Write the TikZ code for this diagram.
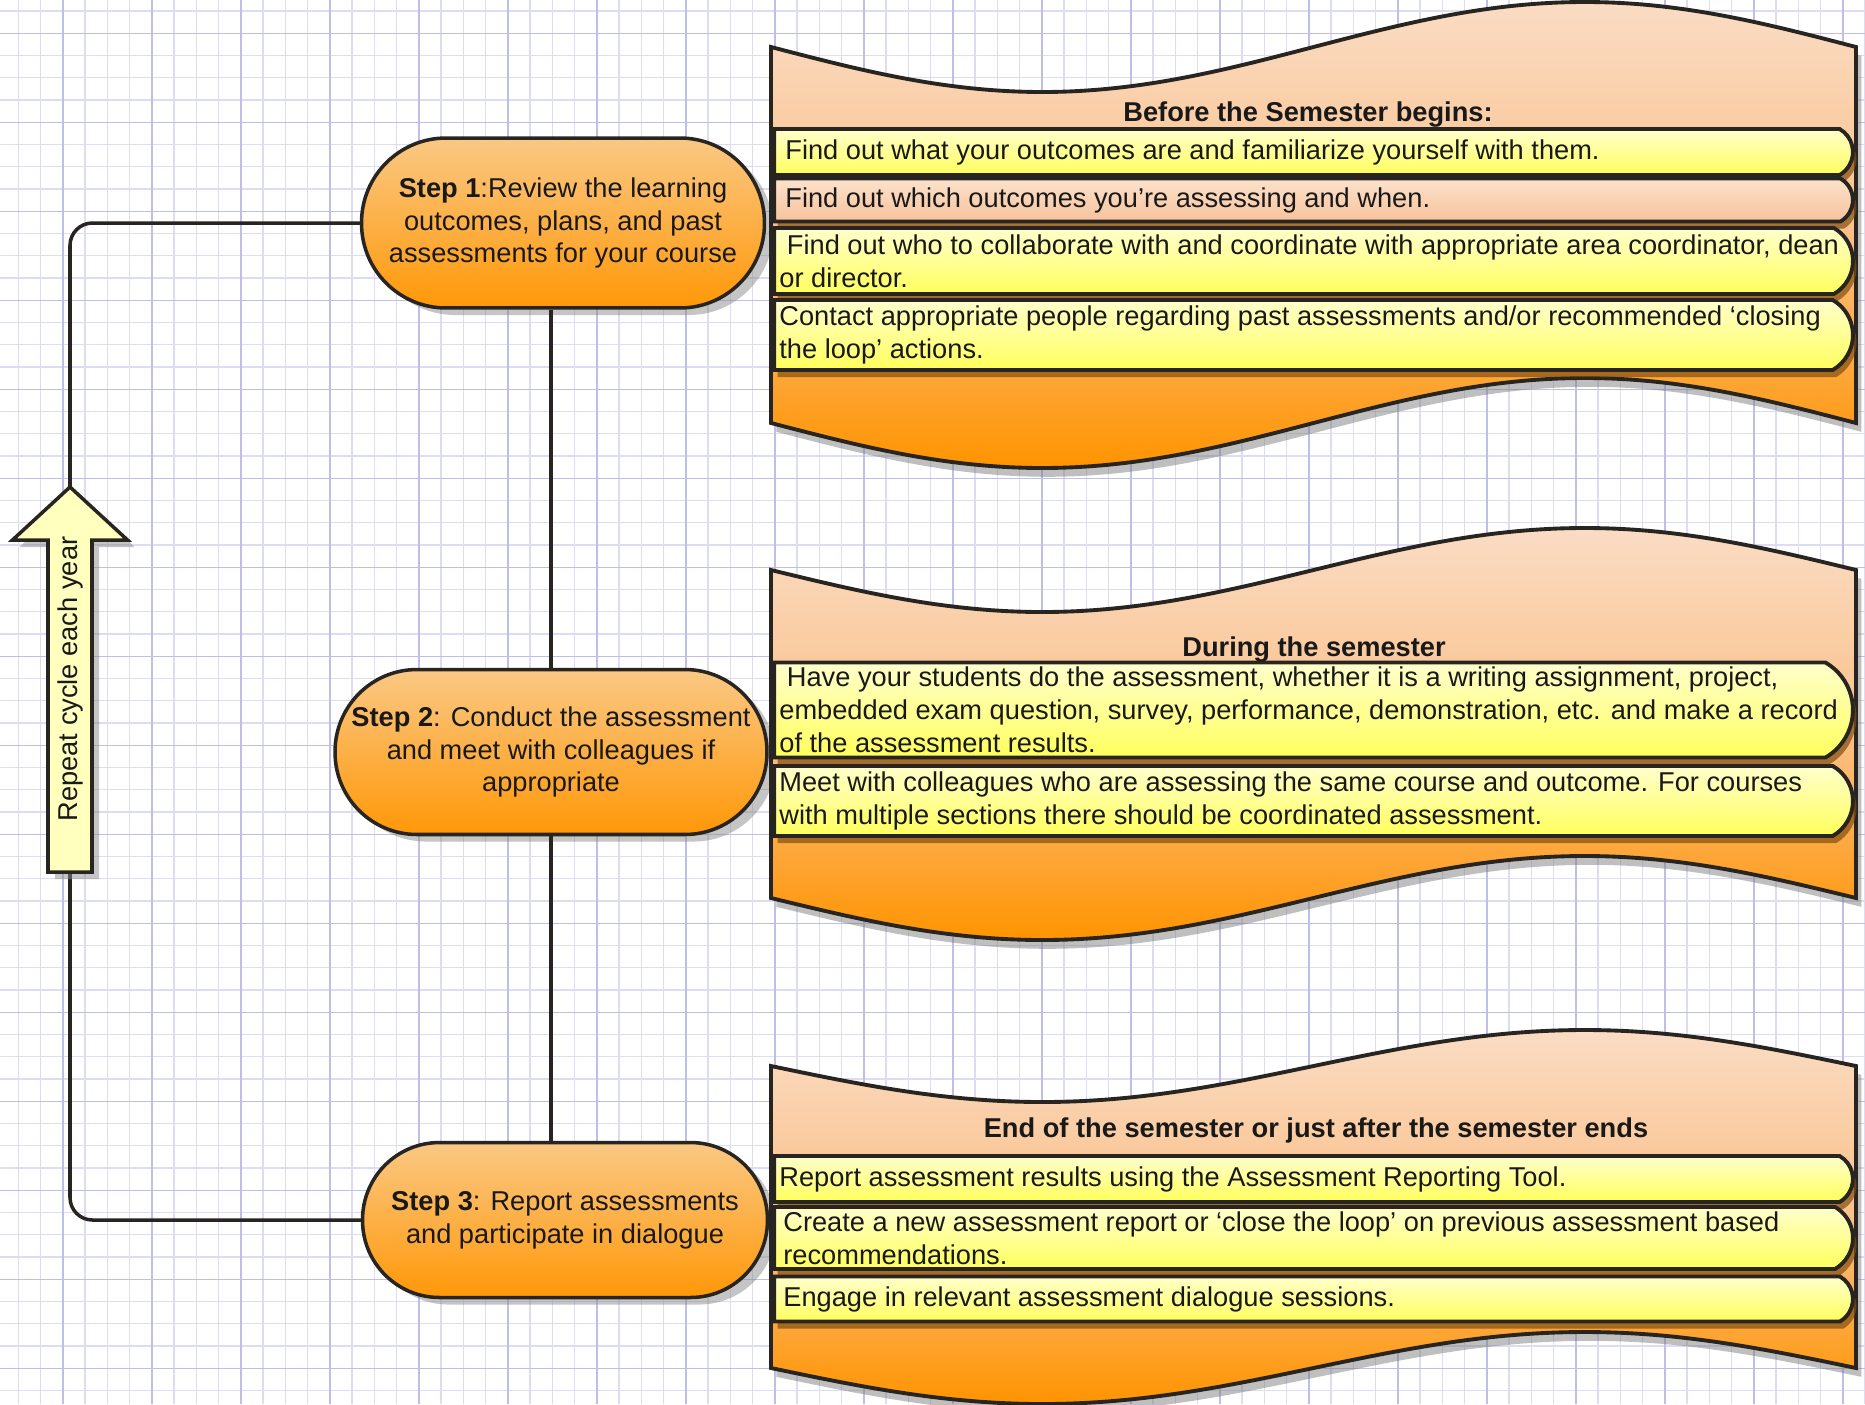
\documentclass[tikz,border=0pt]{standalone}
\usepackage{fontspec}
\setmainfont{Liberation Sans}
\usetikzlibrary{shapes.misc,shadows}

\definecolor{gridminor}{RGB}{220,220,242}
\definecolor{gridmajor}{RGB}{190,190,230}
\definecolor{peachtop}{RGB}{250,220,196}
\definecolor{peachmid}{RGB}{250,192,136}
\definecolor{deeporange}{RGB}{255,148,0}
\definecolor{steptop}{RGB}{250,200,132}
\definecolor{stepbot}{RGB}{255,152,8}
\definecolor{paleyellow}{RGB}{255,255,204}
\definecolor{brightyellow}{RGB}{255,255,92}
\definecolor{peachbartop}{RGB}{252,226,204}
\definecolor{peachbarbot}{RGB}{247,194,156}
\definecolor{arrowfill}{RGB}{255,255,190}
\definecolor{edge}{RGB}{40,36,32}
\definecolor{barshadow}{RGB}{130,78,16}

\begin{document}
\begin{tikzpicture}[x=0.02cm, y=-0.02cm,
    every node/.style={font=\fontsize{15.5pt}{18.7pt}\selectfont, text=black!90},
    minorline/.style={gridminor, line width=0.7pt},
    majorline/.style={gridmajor, line width=0.9pt},
    link/.style={edge, line width=2pt},
    stepnode/.style={rectangle, draw=edge, line width=2pt, top color=steptop,
      bottom color=stepbot, align=center, inner sep=0pt,
      drop shadow={shadow xshift=5pt, shadow yshift=-4pt, fill=black!45, opacity=0.5}},
    banner/.style={draw=edge, line width=2.2pt, top color=peachtop, bottom color=deeporange,
      middle color=peachmid,
      drop shadow={shadow xshift=3pt, shadow yshift=-5pt, fill=black!50, opacity=0.5}},
    bar/.style={rounded rectangle, rounded rectangle left arc=none,
      rounded rectangle arc length=120, draw=edge, line width=2.2pt,
      minimum width=21.58cm, inner sep=0pt, top color=paleyellow, bottom color=brightyellow,
      drop shadow={shadow xshift=2pt, shadow yshift=-4pt, fill=barshadow, opacity=0.7}},
    peachbar/.style={bar, top color=peachbartop, bottom color=peachbarbot},
    bartext/.style={anchor=west, align=left, inner sep=0pt},
    titletext/.style={font=\fontsize{15.5pt}{18.7pt}\selectfont\bfseries},
    arrowbox/.style={draw=edge, line width=2pt, fill=arrowfill,
      drop shadow={shadow xshift=4pt, shadow yshift=-4pt, fill=black!45, opacity=0.5}}
  ]
  \useasboundingbox (0,0) rectangle (1865,1404);
  \fill[white] (0,0) rectangle (1865,1404);

  % grid paper
  \foreach \i in {0,...,84} {
    \draw[minorline] ({-3.95+22.25*\i},0) -- ++(0,1404);
  }
  \foreach \i in {0,...,63} {
    \draw[minorline] (0,{11.05+22.25*\i}) -- ++(1865,0);
  }
  \foreach \i in {0,...,21} {
    \draw[majorline] ({-26.2+89*\i},0) -- ++(0,1404);
  }
  \foreach \i in {0,...,15} {
    \draw[majorline] (0,{33.3+89*\i}) -- ++(1865,0);
  }

  % steps
  \node[stepnode, minimum width=8.06cm, minimum height=3.4cm, rounded corners=1.69cm] (s1) at (563,223)
    {\textbf{Step 1}:Review the learning\\outcomes, plans, and past\\assessments for your course};
  \node[stepnode, minimum width=8.64cm, minimum height=3.3cm, rounded corners=1.64cm] (s2) at (551,752)
    {\textbf{Step 2}: Conduct the assessment\\and meet with colleagues if\\appropriate};
  \node[stepnode, minimum width=8.1cm, minimum height=3.1cm, rounded corners=1.54cm] (s3) at (565,1220)
    {\textbf{Step 3}: Report assessments\\and participate in dialogue};

  \draw[link] (s1.south -| s2.north) -- (s2.north);
  \draw[link] (s2.south) -- (s2.south |- s3.north);

  % repeat arrow
  \coordinate (atip) at (70,487);
  \coordinate (atail) at (70,872);
  \draw[link, rounded corners=0.45cm] (s1.west) -| (atip);
  \draw[link, rounded corners=0.45cm] (atail) |- (s3.west);
  \draw[arrowbox] (atip) -- (127.5,540) -- (92,540) -- (92,872) -- (48,872)
    -- (48,540) -- (12.5,540) -- cycle;
  \node[rotate=90] (repeat) at (70,679) {Repeat cycle each year};

  % wave banners
  \foreach \t/\b/\a in {47/423/45, 570/898/42, 1066/1368/36} {
    \path[banner] (771,\t) sin (1042.25,{\t+\a}) cos (1313.5,\t) sin (1584.75,{\t-\a})
      cos (1856,\t) -- (1856,\b) sin (1584.75,{\b-\a}) cos (1313.5,\b)
      sin (1042.25,{\b+\a}) cos (771,\b) -- cycle;
  }

  % before the semester
  \node[titletext] (t1) at (1308,115) {Before the Semester begins:};
  \node[bar, minimum height=0.92cm] (b1) at (1313.5,152) {};
  \node[peachbar, minimum height=0.86cm] (b2) at (1313.5,200) {};
  \node[bar, minimum height=1.32cm] (b3) at (1313.5,261) {};
  \node[bar, minimum height=1.4cm] (b4) at (1313.5,335) {};
  \node[bartext] (b1t) at (785,152) {Find out what your outcomes are and familiarize yourself with them.};
  \node[bartext] (b2t) at (785,200) {Find out which outcomes you’re assessing and when.};
  \node[bartext] (b3t) at (779,261) {\ Find out who to collaborate with and coordinate with appropriate area coordinator, dean\\or director.};
  \node[bartext] (b4t) at (779,335) {Contact appropriate people regarding past assessments and/or recommended ‘closing\\the loop’ actions.};

  % during the semester
  \node[titletext] (t2) at (1314,650) {During the semester};
  \node[bar, minimum height=1.9cm] (c1) at (1313.5,710) {};
  \node[bar, minimum height=1.4cm] (c2) at (1313.5,801) {};
  \node[bartext] (c1t) at (779,710) {\ Have your students do the assessment, whether it is a writing assignment, project,\\embedded exam question, survey, performance, demonstration, etc. and make a record\\of the assessment results.};
  \node[bartext] (c2t) at (779,801) {Meet with colleagues who are assessing the same course and outcome. For courses\\with multiple sections there should be coordinated assessment.};

  % end of the semester
  \node[titletext] (t3) at (1316,1130) {End of the semester or just after the semester ends};
  \node[bar, minimum height=0.92cm] (d1) at (1313.5,1179) {};
  \node[bar, minimum height=1.24cm] (d2) at (1313.5,1238) {};
  \node[bar, minimum height=0.9cm] (d3) at (1313.5,1299) {};
  \node[bartext] (d1t) at (779,1179) {Report assessment results using the Assessment Reporting Tool.};
  \node[bartext] (d2t) at (783,1238) {Create a new assessment report or ‘close the loop’ on previous assessment based\\recommendations.};
  \node[bartext] (d3t) at (783,1299) {Engage in relevant assessment dialogue sessions.};
\end{tikzpicture}
\end{document}
